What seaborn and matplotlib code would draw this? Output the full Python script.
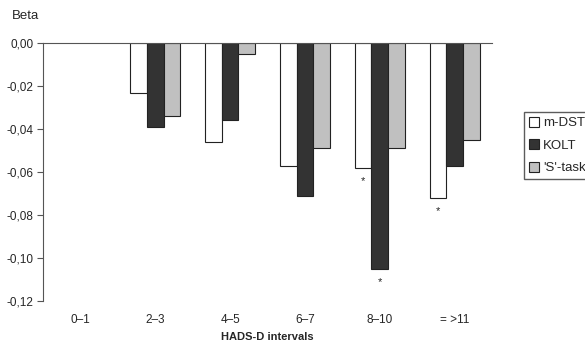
import numpy as np
import pandas as pd
import matplotlib
matplotlib.use("Agg")
import matplotlib.pyplot as plt
import seaborn as sns

# HADS-D intervals and beta values per task (0-1 is reference, no bars)
intervals = ["0\u20131", "2\u20133", "4\u20135", "6\u20137", "8\u201310", "= >11"]
tasks = ["m-DST", "KOLT", "'S'-task"]
m_dst = [np.nan, -0.023, -0.046, -0.057, -0.058, -0.072]
kolt = [np.nan, -0.039, -0.036, -0.071, -0.105, -0.057]
s_task = [np.nan, -0.034, -0.005, -0.049, -0.049, -0.045]
# significant bars: (interval, task)
significant = [("8\u201310", "m-DST"), ("8\u201310", "KOLT"), ("= >11", "m-DST")]

colors = ["#ffffff", "#333333", "#c0c0c0"]
yticks = [0.0, -0.02, -0.04, -0.06, -0.08, -0.10, -0.12]

df = pd.DataFrame({
    "interval": intervals * 3,
    "task": [tasks[0]] * 6 + [tasks[1]] * 6 + [tasks[2]] * 6,
    "beta": m_dst + kolt + s_task,
})

sns.set_style("white")
plt.rcParams["font.family"] = ["Liberation Sans", "DejaVu Sans"]

fig = plt.figure(figsize=(5.85, 3.45), dpi=100)
ax = fig.add_axes([0.0735, 0.1275, 0.7675, 0.7475])

sns.barplot(data=df, x="interval", y="beta", hue="task", order=intervals,
            hue_order=tasks, palette=colors, edgecolor="#222222",
            linewidth=0.8, width=0.67, errorbar=None, legend=False, ax=ax)

ax.set_ylim(-0.12, 0.0)
ax.set_xlim(-0.5, len(intervals) - 0.5)
ax.set_yticks(yticks)
ax.set_yticklabels([f"{v:.2f}".replace(".", ",").replace("-0,00", "0,00")
                    for v in yticks], fontsize=8.5)
ax.tick_params(axis="y", left=True, length=4, width=0.8, color="#555555", pad=3)
ax.tick_params(axis="x", bottom=False, labelsize=8.5, pad=6)

for side in ["right", "bottom"]:
    ax.spines[side].set_visible(False)
ax.spines["left"].set_color("#555555")
ax.spines["left"].set_linewidth(0.8)
ax.spines["top"].set_color("#555555")
ax.spines["top"].set_linewidth(0.8)

ax.set_xlabel("HADS-D intervals", fontsize=8, fontweight="bold", labelpad=4)
ax.set_ylabel("")
fig.text(12 / 585, 1 - 16 / 345, "Beta", fontsize=9.5, va="center")

# asterisks under significant bars
values = {"m-DST": m_dst, "KOLT": kolt, "'S'-task": s_task}
for cont, task in zip(ax.containers, tasks):
    for bar in cont:
        xc = bar.get_x() + bar.get_width() / 2
        idx = int(round(xc))
        if (intervals[idx], task) in significant:
            ax.text(xc, values[task][idx] - 0.004, "*", ha="center",
                    va="top", fontsize=8)

handles = [plt.Rectangle((0, 0), 1, 1, facecolor=c, edgecolor="#222222",
                         linewidth=0.8) for c in colors]
fig.legend(handles, tasks, loc="upper left",
           bbox_to_anchor=(524 / 585, 1 - 112 / 345), fontsize=9.5,
           frameon=True, fancybox=False, edgecolor="#333333",
           handlelength=0.8, handleheight=0.8, handletextpad=0.3,
           labelspacing=0.75, borderpad=0.35, borderaxespad=0)

fig.savefig("out.png", dpi=100)
